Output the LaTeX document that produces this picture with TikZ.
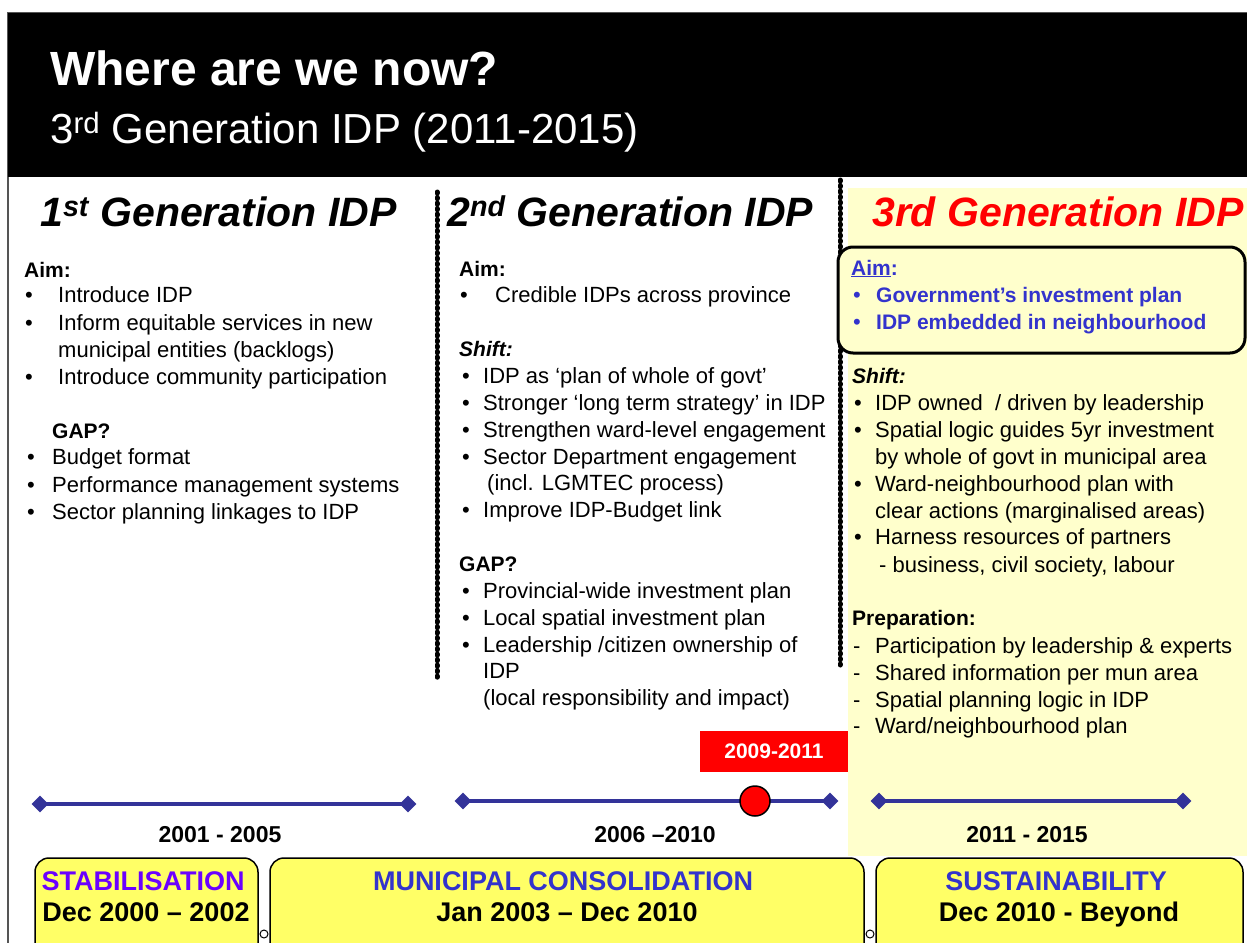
\documentclass[tikz,border=0pt]{standalone}
\usepackage{fontspec}
\setmainfont{Liberation Sans}
\usetikzlibrary{shapes.geometric}
\definecolor{paleyellow}{HTML}{FFFFCC}
\definecolor{boxyellow}{HTML}{FFFF66}
\definecolor{textblue}{HTML}{3333CC}
\definecolor{lineblue}{HTML}{333399}
\definecolor{violet}{HTML}{6B00FF}
\definecolor{framegray}{HTML}{555555}
\begin{document}
\begin{tikzpicture}[x=1pt,y=-1pt,
  body/.style={anchor=base west,inner sep=0pt,font=\fontsize{22}{26}\selectfont},
  lbl/.style={body,font=\bfseries\fontsize{21}{26}\selectfont},
  heading/.style={anchor=base west,inner sep=0pt,font=\bfseries\itshape\fontsize{41}{44}\selectfont},
  sep/.style={line width=5pt,line cap=round,dash pattern=on 1.2pt off 4.3pt},
  dmd/.style={diamond,fill=lineblue,inner sep=0pt,minimum width=17pt,minimum height=17pt},
  tl/.style={lineblue,line width=4.5pt,shorten <=-3pt,shorten >=-3pt},
  year/.style={anchor=base,inner sep=0pt,font=\bfseries\fontsize{23}{26}\selectfont},
  era/.style={draw=black,line width=1.5pt,fill=boxyellow,rounded corners=14pt},
  eratitle/.style={anchor=base,inner sep=0pt,font=\bfseries\fontsize{27}{30}\selectfont},
]
\useasboundingbox (0,0) rectangle (1247,942);
\clip (0,0) rectangle (1247,942);
\fill[white] (0,0) rectangle (1247,942);

% slide frame and header band
\draw[framegray,line width=1.2pt] (8,960) -- (8,13) -- (1260,13);
\fill[black] (8,13) rectangle (1247,177);
\node[anchor=base west,inner sep=0pt,text=white,font=\bfseries\fontsize{48}{52}\selectfont] (title) at (50,85) {Where are we now?};
\node[anchor=base west,inner sep=0pt,text=white,font=\fontsize{42}{46}\selectfont] (subtitle) at (50,143) {3\textsuperscript{rd} Generation IDP (2011-2015)};

% highlighted third-generation column
\fill[paleyellow] (848,188) rectangle (1247,856);

% column separators
\draw[sep] (437,192) -- (437,680);
\draw[sep] (840,180) -- (840,665);

% column headings
\node[heading] (h1) at (40,226) {1\textsuperscript{st} Generation IDP};
\node[heading] (h2) at (447,226) {2\textsuperscript{nd} Generation IDP};
\node[heading,text=red] (h3) at (872,226) {3rd Generation IDP};

% first generation
\node[lbl] (a1) at (24,277) {Aim:};
\node[body] (a1b1) at (25,302) {•};
\node[body] (a1t1) at (58,302) {Introduce IDP};
\node[body] (a1b2) at (25,330) {•};
\node[body] (a1t2) at (58,330) {Inform equitable services in new};
\node[body] (a1t3) at (58,357) {municipal entities (backlogs)};
\node[body] (a1b4) at (25,384) {•};
\node[body] (a1t4) at (58,384) {Introduce community participation};
\node[lbl] (g1) at (52,438) {GAP?};
\node[body] (g1b1) at (27,464) {•};
\node[body] (g1t1) at (52,464) {Budget format};
\node[body] (g1b2) at (27,492) {•};
\node[body] (g1t2) at (52,492) {Performance management systems};
\node[body] (g1b3) at (27,519) {•};
\node[body] (g1t3) at (52,519) {Sector planning linkages to IDP};

% second generation
\node[lbl] (a2) at (459,276) {Aim:};
\node[body] (a2b1) at (460,302) {•};
\node[body] (a2t1) at (495,302) {Credible IDPs across province};
\node[lbl,font=\bfseries\itshape\fontsize{21}{26}\selectfont] (s2) at (459,356) {Shift:};
\node[body] (s2b1) at (462,383) {•};
\node[body] (s2t1) at (483,383) {IDP as ‘plan of whole of govt’};
\node[body] (s2b2) at (462,410) {•};
\node[body] (s2t2) at (483,410) {Stronger ‘long term strategy’ in IDP};
\node[body] (s2b3) at (462,437) {•};
\node[body] (s2t3) at (483,437) {Strengthen ward-level engagement};
\node[body] (s2b4) at (462,464) {•};
\node[body] (s2t4) at (483,464) {Sector Department engagement};
\node[body] (s2t5) at (487,490) {(incl. LGMTEC process)};
\node[body] (s2b6) at (462,517) {•};
\node[body] (s2t6) at (483,517) {Improve IDP-Budget link};
\node[lbl] (g2) at (459,571) {GAP?};
\node[body] (g2b1) at (462,598) {•};
\node[body] (g2t1) at (483,598) {Provincial-wide investment plan};
\node[body] (g2b2) at (462,625) {•};
\node[body] (g2t2) at (483,625) {Local spatial investment plan};
\node[body] (g2b3) at (462,652) {•};
\node[body] (g2t3) at (483,652) {Leadership /citizen ownership of};
\node[body] (g2t4) at (483,678) {IDP};
\node[body] (g2t5) at (483,705) {(local responsibility and impact)};

% third generation
\draw[black,line width=3pt,fill=paleyellow,rounded corners=15pt] (838,247) rectangle (1245,353);
\node[lbl,text=textblue] (a3) at (851,275) {\underline{Aim}:};
\node[body,text=textblue] (a3b1) at (853,302) {•};
\node[lbl,text=textblue] (a3t1) at (876,302) {Government’s investment plan};
\node[body,text=textblue] (a3b2) at (853,329) {•};
\node[lbl,text=textblue] (a3t2) at (876,329) {IDP embedded in neighbourhood};
\node[lbl,font=\bfseries\itshape\fontsize{21}{26}\selectfont] (s3) at (852,383) {Shift:};
\node[body] (s3b1) at (854,410) {•};
\node[body] (s3t1) at (875,410) {IDP owned~~/ driven by leadership};
\node[body] (s3b2) at (854,437) {•};
\node[body] (s3t2) at (875,437) {Spatial logic guides 5yr investment};
\node[body] (s3t3) at (875,464) {by whole of govt in municipal area};
\node[body] (s3b4) at (854,491) {•};
\node[body] (s3t4) at (875,491) {Ward-neighbourhood plan with};
\node[body] (s3t5) at (875,518) {clear actions (marginalised areas)};
\node[body] (s3b6) at (854,544) {•};
\node[body] (s3t6) at (875,544) {Harness resources of partners};
\node[body] (s3t7) at (879,572) {- business, civil society, labour};
\node[lbl] (p3) at (852,625) {Preparation:};
\node[body] (p3d1) at (853,653) {-};
\node[body] (p3t1) at (875,653) {Participation by leadership \& experts};
\node[body] (p3d2) at (853,680) {-};
\node[body] (p3t2) at (875,680) {Shared information per mun area};
\node[body] (p3d3) at (853,707) {-};
\node[body] (p3t3) at (875,707) {Spatial planning logic in IDP};
\node[body] (p3d4) at (853,733) {-};
\node[body] (p3t4) at (875,733) {Ward/neighbourhood plan};

% timelines
\node[dmd] (t1a) at (40,804) {};
\node[dmd] (t1b) at (408,804) {};
\draw[tl] (t1a) -- (t1b);
\node[dmd] (t2a) at (463,801) {};
\node[dmd] (t2b) at (830,801) {};
\draw[tl] (t2a) -- (t2b);
\node[dmd] (t3a) at (879,801) {};
\node[dmd] (t3b) at (1183,801) {};
\draw[tl] (t3a) -- (t3b);
\node[circle,draw=black,line width=1.5pt,fill=red,minimum size=30pt,inner sep=0pt] (now) at (755,801) {};
\node[fill=red,text=white,font=\bfseries\fontsize{21}{24}\selectfont,minimum width=148pt,minimum height=41pt,inner sep=0pt] (period) at (774,751.5) {2009-2011};

\node[year] (y1) at (220,842) {2001 - 2005};
\node[year] (y2) at (655,842) {2006 --2010};
\node[year] (y3) at (1027,842) {2011 - 2015};

% development phases
\draw[era] (35,858) rectangle (258,965);
\draw[era] (270,858) rectangle (864,965);
\draw[era] (876,858) rectangle (1243,965);
\node[circle,draw=black,fill=white,line width=1pt,minimum size=8pt,inner sep=0pt] (k1) at (264,934) {};
\node[circle,draw=black,fill=white,line width=1pt,minimum size=8pt,inner sep=0pt] (k2) at (870,934) {};
\node[eratitle,text=violet] (e1a) at (143,890) {STABILISATION};
\node[eratitle] (e1b) at (146,921) {Dec 2000 -- 2002};
\node[eratitle,text=textblue] (e2a) at (563,890) {MUNICIPAL CONSOLIDATION};
\node[eratitle] (e2b) at (567,921) {Jan 2003 -- Dec 2010};
\node[eratitle,text=textblue] (e3a) at (1056,890) {SUSTAINABILITY};
\node[eratitle] (e3b) at (1059,921) {Dec 2010 - Beyond};
\end{tikzpicture}
\end{document}
